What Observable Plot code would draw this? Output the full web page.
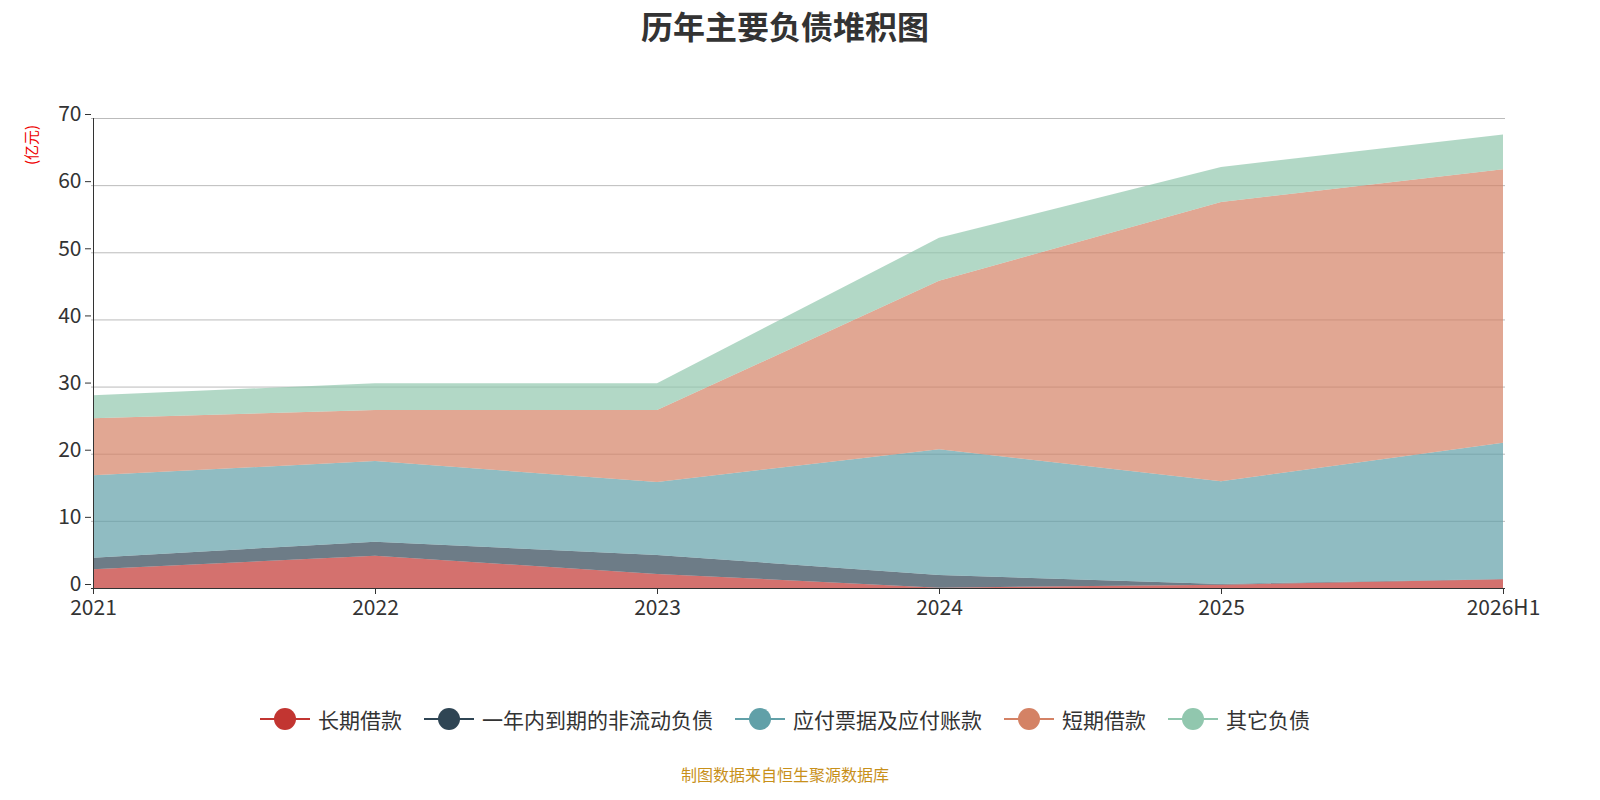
<!DOCTYPE html>
<html><head><meta charset="utf-8">
<script src="https://cdn.jsdelivr.net/npm/d3@7"></script>
<script src="https://cdn.jsdelivr.net/npm/@observablehq/plot@0.6"></script>
<style>
html{overflow:hidden;margin:0}
body{margin:0;width:1600px;height:800px;position:relative;font-family:"Noto Sans CJK SC","Noto Sans",sans-serif;background:#fff;overflow:hidden}
#title{position:absolute;top:2px;left:0;width:1570px;text-align:center;font-size:32px;font-weight:bold;color:#333}
#chart{position:absolute;top:0;left:0}
#unit{position:absolute;left:20px;color:#e00;font-size:15px;transform:rotate(-90deg);transform-origin:left top;top:165px}
#legend{position:absolute;top:704px;left:0;width:1570px;display:flex;justify-content:center;gap:22px;font-size:21px;color:#333}
.li{display:flex;align-items:center;gap:8px}
.sw{position:relative;width:50px;height:24px}
.sw .l{position:absolute;top:11px;left:0;width:50px;height:2px}
.sw .c{position:absolute;top:1px;left:14px;width:22px;height:22px;border-radius:50%}
#cap{position:absolute;top:762px;left:0;width:1570px;text-align:center;color:#c8901a;font-size:16px}
</style></head><body>
<div id="chart"></div>
<div id="title">历年主要负债堆积图</div>
<div id="unit">(亿元)</div>
<div id="legend"></div>
<div id="cap">制图数据来自恒生聚源数据库</div>
<script>
const years=["2021","2022","2023","2024","2025","2026H1"];
const seriesNames=["长期借款","一年内到期的非流动负债","应付票据及应付账款","短期借款","其它负债"];
const colors=["#c23531","#2f4554","#61a0a8","#d48265","#91c7ae"];
const v长期借款=[2.8,4.8,2.1,0.05,0.5,1.3];
const v一年内=[1.7,2.1,2.8,1.9,0.1,0.05];
const v应付=[12.3,12.0,10.9,18.7,15.3,20.3];
const v短期=[8.5,7.6,10.7,25.1,41.6,40.7];
const v其它=[3.4,4.0,4.0,6.4,5.2,5.2];
const yTicks=[0,10,20,30,40,50,60,70];
const vals=[v长期借款,v一年内,v应付,v短期,v其它];
const data=[];
seriesNames.forEach((s,i)=>years.forEach((y,j)=>data.push({s,year:y,v:vals[i][j]})));
const chart=Plot.plot({
 width:1600,height:650,marginTop:118,marginLeft:91,marginRight:95,marginBottom:62,
 style:{fontFamily:"Noto Sans CJK SC, sans-serif",fontSize:"21px",color:"#333"},
 x:{type:"point",domain:years,padding:0,label:null,tickSize:6},
 y:{domain:[0,70],ticks:yTicks,label:null,tickSize:6},
 color:{domain:seriesNames,range:colors},
 marks:[
  Plot.gridY(yTicks,{stroke:"#bbb",strokeOpacity:1}),
  Plot.areaY(data,{x:"year",y:"v",fill:"s",z:"s",order:seriesNames,fillOpacity:0.7}),
  Plot.ruleY([0],{stroke:"#333"}),
  Plot.ruleX([years[0]],{stroke:"#333"}),
  Plot.axisX({tickSize:6,fontSize:21,tickPadding:6}),
  Plot.axisY(yTicks,{tickSize:6,fontSize:21,tickPadding:4,dy:-4})
 ]});
chart.style.maxWidth="none";
chart.setAttribute("width","1600");
document.getElementById("chart").appendChild(chart);
const lg=document.getElementById("legend");
seriesNames.forEach((s,i)=>{lg.insertAdjacentHTML("beforeend",`<div class="li"><div class="sw"><div class="l" style="background:${colors[i]}"></div><div class="c" style="background:${colors[i]}"></div></div><span>${s}</span></div>`)});
</script></body></html>
